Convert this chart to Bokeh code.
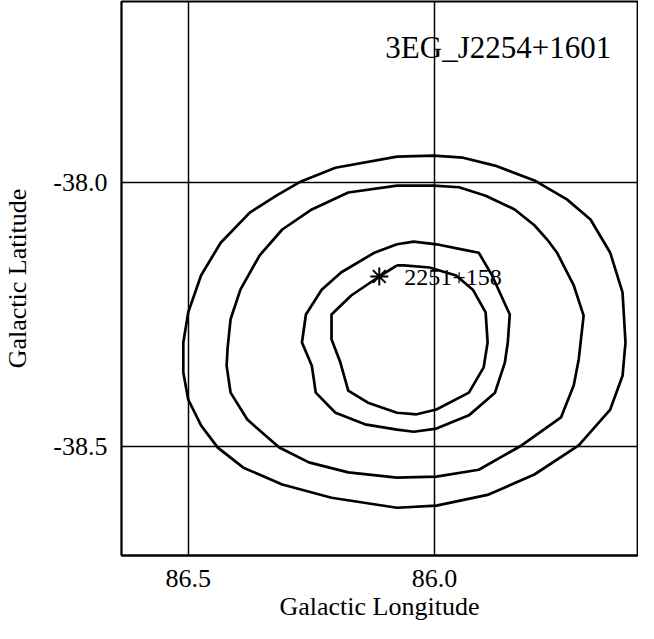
from bokeh.plotting import figure
from bokeh.models import Range1d, FixedTicker, PrintfTickFormatter, ColumnDataSource
from bokeh.core.properties import value
from bokeh.embed import file_html
from bokeh.resources import INLINE

FONT = "Liberation Serif"

# contour levels (galactic longitude / latitude, degrees)
c1_lon = [86.076, 86.201, 86.271, 86.321, 86.375, 86.434, 86.474, 86.500, 86.510, 86.510, 86.500, 86.474, 86.440,
          86.388, 86.309, 86.209, 86.076, 85.996, 85.890, 85.797, 85.707, 85.643, 85.618, 85.612, 85.618, 85.643,
          85.683, 85.731, 85.797, 85.877, 85.942, 86.002, 86.076]
c1_lat = [-37.951, -37.972, -37.998, -38.025, -38.057, -38.114, -38.176, -38.246, -38.303, -38.360, -38.411, -38.460,
          -38.502, -38.540, -38.572, -38.597, -38.616, -38.612, -38.591, -38.553, -38.498, -38.430, -38.366, -38.303,
          -38.208, -38.133, -38.070, -38.032, -37.996, -37.968, -37.953, -37.949, -37.951]

c2_lon = [86.076, 86.175, 86.249, 86.309, 86.355, 86.394, 86.414, 86.420, 86.422, 86.414, 86.380, 86.315, 86.255,
          86.175, 86.076, 85.996, 85.910, 85.823, 85.743, 85.717, 85.707, 85.697, 85.717, 85.751, 85.771, 85.797,
          85.837, 85.896, 85.950, 86.002, 86.076]
c2_lat = [-38.006, -38.019, -38.051, -38.089, -38.138, -38.203, -38.259, -38.313, -38.347, -38.398, -38.449, -38.502,
          -38.530, -38.549, -38.559, -38.557, -38.544, -38.498, -38.445, -38.384, -38.335, -38.252, -38.195, -38.133,
          -38.108, -38.081, -38.051, -38.025, -38.009, -38.006, -38.006]

c3_lon = [86.076, 86.122, 86.189, 86.229, 86.261, 86.269, 86.249, 86.241, 86.201, 86.141, 86.076, 86.042, 85.996,
          85.930, 85.877, 85.857, 85.851, 85.847, 85.883, 85.910, 85.942, 85.996, 86.042, 86.076]
c3_lat = [-38.117, -38.133, -38.170, -38.203, -38.250, -38.303, -38.347, -38.398, -38.436, -38.458, -38.468, -38.472,
          -38.466, -38.441, -38.398, -38.341, -38.303, -38.250, -38.176, -38.133, -38.127, -38.117, -38.112, -38.117]

c4_lon = [86.076, 86.112, 86.169, 86.209, 86.209, 86.191, 86.175, 86.135, 86.076, 86.036, 85.996, 85.930, 85.900,
          85.892, 85.896, 85.922, 85.956, 86.010, 86.062, 86.076]
c4_lat = [-38.157, -38.178, -38.214, -38.250, -38.297, -38.341, -38.394, -38.417, -38.436, -38.439, -38.430, -38.398,
          -38.350, -38.303, -38.246, -38.203, -38.176, -38.161, -38.157, -38.157]

# source position
src_lon = [86.112]
src_lat = [-38.178]
src_name = ["2251+158"]

title_text = "3EG_J2254+1601"
title_lon = [85.641]
title_lat = [-37.744]

x_ticks = [86.5, 86.0]
y_ticks = [-38.0, -38.5]

p = figure(width=638, height=623, output_backend="svg", toolbar_location=None,
           x_range=Range1d(86.6355, 85.5876), y_range=Range1d(-38.7064, -37.6572),
           min_border_left=111, min_border_right=1, min_border_top=1, min_border_bottom=68,
           background_fill_color="white", border_fill_color="white")

p.outline_line_color = "black"
p.outline_line_width = 1.8

for ax in (p.xaxis[0], p.yaxis[0]):
    ax.major_tick_line_color = None
    ax.minor_tick_line_color = None
    ax.axis_line_color = "black"
    ax.axis_line_width = 1.8
    ax.major_label_text_font = FONT
    ax.major_label_text_font_size = "26px"
    ax.major_label_text_color = "black"
    ax.axis_label_text_font = FONT
    ax.axis_label_text_font_size = "26px"
    ax.axis_label_text_font_style = "normal"
    ax.axis_label_text_color = "black"
    ax.formatter = PrintfTickFormatter(format="%.1f")

p.xaxis.ticker = FixedTicker(ticks=x_ticks)
p.yaxis.ticker = FixedTicker(ticks=y_ticks)
p.xaxis.axis_label = "Galactic Longitude"
p.yaxis.axis_label = "Galactic Latitude"
p.xaxis.major_label_standoff = 8
p.xaxis.axis_label_standoff = 2
p.yaxis.major_label_standoff = 8
p.yaxis.axis_label_standoff = 18

p.xgrid.ticker = FixedTicker(ticks=x_ticks)
p.ygrid.ticker = FixedTicker(ticks=y_ticks)
for g in (p.xgrid[0], p.ygrid[0]):
    g.grid_line_color = "black"
    g.grid_line_width = 1.5
    g.grid_line_alpha = 1.0

for lons, lats in ((c1_lon, c1_lat), (c2_lon, c2_lat), (c3_lon, c3_lat), (c4_lon, c4_lat)):
    p.line(lons, lats, line_color="black", line_width=2.7, line_join="round")

src = ColumnDataSource(dict(x=src_lon, y=src_lat, name=src_name))
p.scatter("x", "y", source=src, marker="asterisk", size=18, line_color="black", line_width=2)
p.text("x", "y", text="name", source=src, x_offset=25, y_offset=1,
       text_font=value(FONT), text_font_size="24px", text_color="black",
       text_baseline="alphabetic", text_align="left")

p.text(title_lon, title_lat, text=[title_text], text_font=value(FONT), text_font_size="31px",
       text_color="black", text_align="right", text_baseline="alphabetic")

open("out.html", "w").write(file_html(p, INLINE))
